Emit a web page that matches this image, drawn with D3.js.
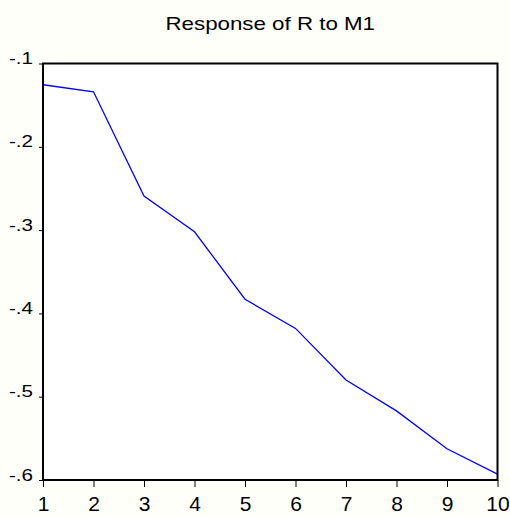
<!DOCTYPE html>
<html>
<head>
<meta charset="utf-8">
<script src="https://cdn.jsdelivr.net/npm/d3@7"></script>
<style>
  html, body { margin: 0; padding: 0; background: #fffffa; }
  text { font-family: "Liberation Sans", Arial, sans-serif; fill: #000; }
</style>
</head>
<body>
<div id="chart"></div>
<script>
// periods and impulse response values
const periods = [1, 2, 3, 4, 5, 6, 7, 8, 9, 10];
const response = [-0.1255, -0.134, -0.259, -0.302, -0.383, -0.418, -0.480, -0.517, -0.5625, -0.593];
const yTicks = [-0.1, -0.2, -0.3, -0.4, -0.5, -0.6];
const yTickLabels = ['-.1', '-.2', '-.3', '-.4', '-.5', '-.6'];
const title = 'Response of R to M1';

const width = 510;
const height = 517;
const margin = { top: 63.5, right: 12.5, bottom: 37, left: 43 };

const svg = d3.select('#chart')
  .append('svg')
  .attr('width', width)
  .attr('height', height);

const x = d3.scaleLinear()
  .domain([1, 10])
  .range([margin.left, width - margin.right]);

const y = d3.scaleLinear()
  .domain([-0.6, -0.1])
  .range([height - margin.bottom, margin.top]);

// plot area
svg.append('rect')
  .attr('x', margin.left)
  .attr('y', margin.top)
  .attr('width', x(10) - x(1))
  .attr('height', y(-0.6) - y(-0.1))
  .attr('fill', '#fff');

// line
const line = d3.line()
  .x((d, i) => x(periods[i]))
  .y(d => y(d));

svg.append('path')
  .datum(response)
  .attr('fill', 'none')
  .attr('stroke', '#0000ff')
  .attr('stroke-width', 1.3)
  .attr('d', line);

// y axis
const yAxis = svg.append('g')
  .attr('transform', `translate(${margin.left},0)`)
  .call(d3.axisLeft(y).tickValues(yTicks).tickSize(4).tickFormat((d, i) => yTickLabels[i]));
yAxis.select('.domain').remove();
yAxis.selectAll('.tick line').attr('stroke', '#000');
yAxis.selectAll('.tick text')
  .attr('font-size', '16.5px')
  .attr('x', null)
  .attr('dy', null)
  .attr('text-anchor', 'end')
  .attr('transform', 'translate(-10,0) scale(1.25,1)');

// x axis
const xAxis = svg.append('g')
  .attr('transform', `translate(0,${y(-0.6)})`)
  .call(d3.axisBottom(x).tickValues(periods).tickSize(7).tickFormat(d3.format('d')));
xAxis.select('.domain').remove();
xAxis.selectAll('.tick line').attr('stroke', '#000');
xAxis.selectAll('.tick text')
  .attr('font-size', '21px')
  .attr('y', 31)
  .attr('dy', null);

// frame
svg.append('rect')
  .attr('x', margin.left)
  .attr('y', margin.top)
  .attr('width', x(10) - x(1))
  .attr('height', y(-0.6) - y(-0.1))
  .attr('fill', 'none')
  .attr('stroke', '#000')
  .attr('stroke-width', 2);

// title
svg.append('text')
  .attr('text-anchor', 'middle')
  .attr('font-size', '18.6px')
  .attr('transform', `translate(${(x(1) + x(10)) / 2},30) scale(1.2,1)`)
  .text(title);
</script>
</body>
</html>
